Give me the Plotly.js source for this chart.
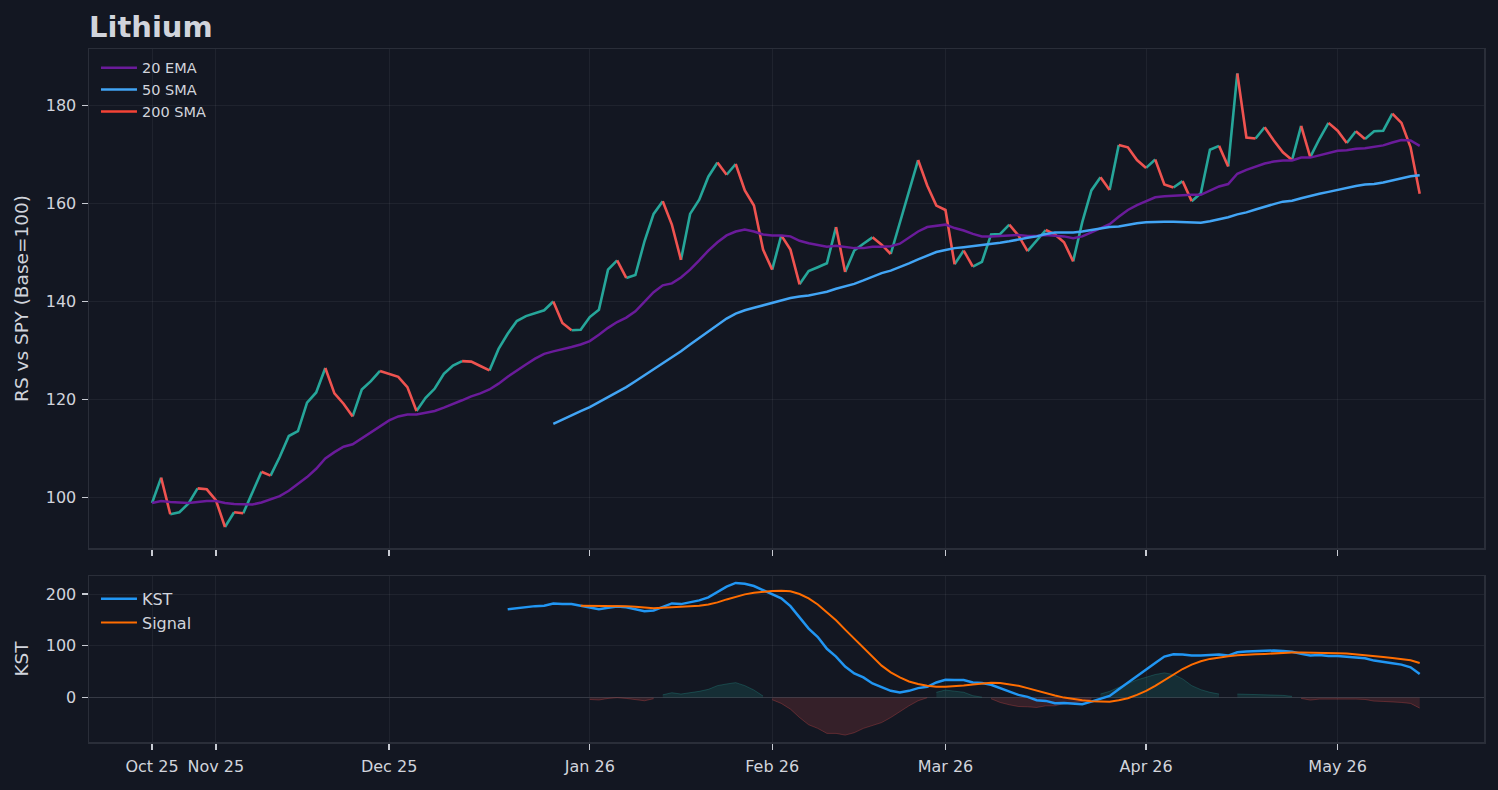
<!DOCTYPE html>
<html>
<head>
<meta charset="utf-8">
<script src="https://cdn.plot.ly/plotly-3.0.1.min.js"></script>
<style>
  html, body { margin: 0; padding: 0; background: #131722; }
  #chart { width: 1498px; height: 790px; }
</style>
</head>
<body>
<div id="chart"></div>
<script>
// ---------- DATA ----------
const tickIndex = [0, 7, 26, 48, 68, 87, 109, 130];
const tickLabels = ["Oct 25", "Nov 25", "Dec 25", "Jan 26", "Feb 26", "Mar 26", "Apr 26", "May 26"];

// RS vs SPY (Base=100), one value per trading day
const rsPrice = [
  98.8, 104.0, 96.5, 96.9, 98.7, 101.8, 101.6, 99.4, 93.9, 96.9,
  96.7, 101.1, 105.2, 104.4, 108.2, 112.5, 113.5, 119.3, 121.4, 126.4,
  121.2, 119.1, 116.5, 122.0, 123.7, 125.8, 125.2, 124.6, 122.5, 117.6,
  120.3, 122.2, 125.2, 126.9, 127.8, 127.7, 126.8, 125.9, 130.3, 133.4,
  136.0, 137.0, 137.6, 138.2, 140.0, 135.6, 134.1, 134.2, 136.8, 138.3,
  146.5, 148.4, 144.8, 145.4, 152.3, 157.9, 160.5, 155.7, 148.5, 157.9,
  160.8, 165.5, 168.4, 165.9, 168.1, 162.7, 159.6, 150.6, 146.5, 153.5,
  150.6, 143.5, 146.2, 147.0, 147.8, 155.2, 146.0, 150.4, 151.8, 153.1,
  151.6, 149.7, 156.2, 162.3, 168.9, 163.7, 159.6, 158.7, 147.6, 150.4,
  147.1, 148.1, 153.7, 153.8, 155.7, 153.5, 150.3, 152.4, 154.6, 153.7,
  152.1, 148.2, 156.2, 162.7, 165.4, 162.8, 172.0, 171.5, 168.9, 167.3,
  169.0, 163.9, 163.3, 164.6, 160.5, 162.1, 171.0, 171.8, 167.6, 186.6,
  173.5, 173.3, 175.6, 172.9, 170.5, 168.9, 175.9, 169.5, 173.2, 176.5,
  174.9, 172.4, 174.8, 173.2, 174.8, 174.9, 178.4, 176.5, 171.5, 162.0
];

const ema20 = [
  98.8, 99.2, 99.0, 98.9, 98.8, 99.0, 99.2, 99.2, 98.8, 98.6,
  98.5, 98.5, 98.9, 99.5, 100.2, 101.3, 102.7, 104.1, 105.8, 107.9,
  109.2, 110.3, 110.8, 112.0, 113.2, 114.5, 115.7, 116.5, 116.9, 116.9,
  117.2, 117.6, 118.3, 119.0, 119.8, 120.6, 121.2, 122.0, 123.2, 124.6,
  125.9, 127.1, 128.3, 129.3, 129.8, 130.2, 130.7, 131.2, 131.9, 133.2,
  134.6, 135.8, 136.7, 138.0, 139.9, 141.9, 143.3, 143.7, 144.9, 146.5,
  148.4, 150.4, 152.1, 153.5, 154.3, 154.7, 154.3, 153.7, 153.5, 153.5,
  153.3, 152.4, 151.9, 151.6, 151.2, 151.4, 151.1, 150.9, 150.9, 151.2,
  151.2, 151.3, 151.8, 153.0, 154.3, 155.2, 155.5, 155.7, 155.0, 154.5,
  153.8, 153.3, 153.3, 153.4, 153.6, 153.6, 153.4, 153.4, 153.6, 153.5,
  153.3, 152.9, 153.3, 154.1, 155.0, 155.8, 157.3, 158.7, 159.7, 160.5,
  161.3, 161.5, 161.6, 161.8, 161.8, 161.8, 162.7, 163.5, 164.0, 166.1,
  166.9, 167.6, 168.2, 168.6, 168.8, 168.8, 169.4, 169.4, 169.9, 170.4,
  170.8, 170.9, 171.2, 171.3, 171.6, 171.9, 172.5, 173.0, 172.9, 171.8
];

const sma50 = [
  null, null, null, null, null, null, null, null, null, null,
  null, null, null, null, null, null, null, null, null, null,
  null, null, null, null, null, null, null, null, null, null,
  null, null, null, null, null, null, null, null, null, null,
  null, null, null, null, 115.0, 115.9, 116.7, 117.6, 118.4, 119.4,
  120.5, 121.5, 122.5, 123.7, 124.9, 126.1, 127.3, 128.5, 129.8, 131.2,
  132.5, 133.9, 135.2, 136.5, 137.5, 138.2, 138.7, 139.2, 139.7, 140.2,
  140.7, 141.0, 141.2, 141.6, 142.0, 142.6, 143.1, 143.6, 144.3, 145.1,
  145.8, 146.3, 147.0, 147.8, 148.6, 149.4, 150.1, 150.5, 150.9, 151.1,
  151.3, 151.5, 151.8, 152.0, 152.3, 152.7, 153.0, 153.3, 153.8, 154.1,
  154.1, 154.1, 154.3, 154.6, 155.0, 155.2, 155.3, 155.7, 156.0, 156.2,
  156.3, 156.3, 156.3, 156.2, 156.1, 156.1, 156.4, 156.8, 157.2, 157.8,
  158.2, 158.8, 159.4, 159.9, 160.4, 160.6, 161.1, 161.6, 162.0, 162.4,
  162.8, 163.3, 163.6, 163.9, 164.0, 164.3, 164.7, 165.1, 165.6, 165.8
];

// 200 SMA: not enough history, nothing drawn (legend entry only)
const sma200 = rsPrice.map(() => null);

const kst = [
  null, null, null, null, null, null, null, null, null, null,
  null, null, null, null, null, null, null, null, null, null,
  null, null, null, null, null, null, null, null, null, null,
  null, null, null, null, null, null, null, null, null, 170.9,
  172.9, 174.8, 176.8, 177.4, 182.0, 181.0, 181.0, 177.4, 173.5, 170.9,
  173.5, 176.2, 174.8, 170.2, 167.0, 168.3, 175.4, 182.0, 180.7, 184.0,
  187.9, 193.7, 204.7, 214.5, 221.7, 220.3, 215.8, 208.0, 200.2, 191.8,
  176.8, 154.0, 133.2, 116.8, 94.1, 79.1, 59.6, 46.5, 38.7, 27.0,
  19.2, 12.7, 9.4, 12.7, 18.0, 20.5, 29.0, 34.2, 33.6, 33.6,
  29.0, 28.0, 24.4, 18.0, 10.7, 4.9, 1.0, -5.5, -6.8, -11.3,
  -10.7, -12.0, -13.3, -8.2, -2.3, 2.9, 16.0, 29.0, 42.0, 53.7,
  66.8, 79.1, 83.6, 83.0, 81.0, 81.0, 82.3, 83.0, 81.0, 87.5,
  88.9, 89.5, 90.8, 90.8, 90.0, 88.3, 84.4, 81.0, 82.3, 80.4,
  80.4, 79.1, 77.7, 75.8, 71.3, 69.3, 66.0, 63.5, 58.2, 45.3
];

const kstSignal = [
  null, null, null, null, null, null, null, null, null, null,
  null, null, null, null, null, null, null, null, null, null,
  null, null, null, null, null, null, null, null, null, null,
  null, null, null, null, null, null, null, null, null, null,
  null, null, null, null, null, null, null, 177.4, 177.4, 177.4,
  177.4, 177.4, 176.8, 175.5, 174.2, 172.9, 173.5, 174.2, 174.8, 176.2,
  177.4, 180.0, 184.0, 189.8, 195.0, 199.6, 202.8, 204.7, 206.0, 206.5,
  205.4, 200.2, 191.8, 180.0, 165.6, 149.4, 131.2, 113.6, 95.3, 77.7,
  61.5, 48.4, 38.7, 30.9, 25.8, 22.5, 20.5, 20.5, 21.1, 23.0,
  25.0, 27.0, 28.3, 28.0, 25.8, 22.5, 18.0, 12.7, 8.2, 3.5,
  -0.4, -3.5, -5.5, -7.4, -8.2, -8.2, -5.5, -1.6, 4.9, 12.7,
  22.5, 33.6, 45.3, 55.0, 63.5, 70.0, 74.6, 77.7, 79.7, 81.6,
  83.0, 83.6, 84.3, 85.5, 86.2, 86.8, 86.8, 86.8, 86.8, 86.2,
  85.5, 84.9, 83.6, 82.3, 80.4, 78.4, 76.4, 74.6, 71.9, 66.7
];

// KST histogram (shaded area)
const kstHist = [
  null, null, null, null, null, null, null, null, null, null,
  null, null, null, null, null, null, null, null, null, null,
  null, null, null, null, null, null, null, null, null, null,
  null, null, null, null, null, null, null, null, null, null,
  null, null, null, null, null, null, null, 0, -4, -5,
  -2, -0.5, -2, -4.5, -6.5, -2.5, 5, 9, 6.5, 9,
  11.7, 15.6, 22.8, 26, 28.6, 22.8, 14.3, 2.6, -4.5, -11.7,
  -22.8, -39, -53, -60, -69.7, -69.7, -73, -68.4, -60, -55,
  -48.8, -39, -27.3, -16.3, -6.5, -0.7, 9.8, 14.3, 12, 10,
  3.3, 0.5, -2.6, -9.8, -14.3, -17.6, -18.2, -19.5, -16.3, -16.3,
  -11.7, -9.8, -7.8, -3, 6.5, 11.7, 19.5, 27.3, 33.9, 39,
  44.3, 47.5, 44.3, 35.8, 22.8, 15, 9.8, 6.5, -0.3, 6.5,
  5.9, 5.2, 5.2, 5.2, 3.9, 2, -2, -5.2, -3.3, -3.3,
  -2, -2.6, -3.3, -4, -7.2, -7.8, -8.5, -9.8, -11.7, -20.8
];

// ---------- STYLE ----------
const BG = '#131722';
const TXT = '#d1d4dc';
const GRID = 'rgba(255,255,255,0.055)';
const SPINE = '#2a2e39';
const UP = '#26a69a';
const DOWN = '#ef5350';
const FONT = 'DejaVu Sans';

const xs = rsPrice.map((_, i) => i);

// split the RS line into rising / falling runs
function splitRuns(vals) {
  const up = { x: [], y: [] }, dn = { x: [], y: [] };
  let prev = null;
  for (let i = 0; i < vals.length - 1; i++) {
    const dir = vals[i + 1] >= vals[i] ? 'up' : 'dn';
    const t = dir === 'up' ? up : dn;
    if (dir !== prev) {
      if (t.x.length) { t.x.push(null); t.y.push(null); }
      t.x.push(xs[i]); t.y.push(vals[i]);
    }
    t.x.push(xs[i + 1]); t.y.push(vals[i + 1]);
    prev = dir;
  }
  return { up, dn };
}
const runs = splitRuns(rsPrice);

// histogram runs by sign (filled to zero)
function histRuns(vals) {
  const out = [];
  let cur = null;
  for (let i = 0; i < vals.length; i++) {
    const v = vals[i];
    const s = v == null ? 0 : (v > 0 ? 1 : (v < 0 ? -1 : 0));
    if (s === 0) { cur = null; continue; }
    if (!cur || cur.sign !== s) { cur = { sign: s, x: [], y: [] }; out.push(cur); }
    cur.x.push(xs[i]); cur.y.push(v);
  }
  return out;
}

const traces = [];
traces.push({ x: runs.up.x, y: runs.up.y, type: 'scatter', mode: 'lines', xaxis: 'x', yaxis: 'y',
  line: { color: UP, width: 2.6 }, showlegend: false, hoverinfo: 'skip', connectgaps: false });
traces.push({ x: runs.dn.x, y: runs.dn.y, type: 'scatter', mode: 'lines', xaxis: 'x', yaxis: 'y',
  line: { color: DOWN, width: 2.6 }, showlegend: false, hoverinfo: 'skip', connectgaps: false });
traces.push({ x: xs, y: ema20, name: '20 EMA', type: 'scatter', mode: 'lines', xaxis: 'x', yaxis: 'y',
  line: { color: '#6a1b9a', width: 2.5 }, legend: 'legend' });
traces.push({ x: xs, y: sma50, name: '50 SMA', type: 'scatter', mode: 'lines', xaxis: 'x', yaxis: 'y',
  line: { color: '#42a5f5', width: 2.5 }, legend: 'legend' });
traces.push({ x: xs, y: sma200, name: '200 SMA', type: 'scatter', mode: 'lines', xaxis: 'x', yaxis: 'y',
  line: { color: '#f44336', width: 2.5 }, legend: 'legend' });

histRuns(kstHist).forEach(r => {
  const pos = r.sign > 0;
  traces.push({ x: r.x, y: r.y, type: 'scatter', mode: 'lines', xaxis: 'x2', yaxis: 'y2',
    fill: 'tozeroy',
    fillcolor: pos ? 'rgba(38,166,154,0.16)' : 'rgba(239,83,80,0.16)',
    line: { color: pos ? 'rgba(38,166,154,0.28)' : 'rgba(239,83,80,0.28)', width: 1 },
    showlegend: false, hoverinfo: 'skip' });
});

traces.push({ x: xs, y: kst, name: 'KST', type: 'scatter', mode: 'lines', xaxis: 'x2', yaxis: 'y2',
  line: { color: '#2196f3', width: 2.5 }, legend: 'legend2' });
traces.push({ x: xs, y: kstSignal, name: 'Signal', type: 'scatter', mode: 'lines', xaxis: 'x2', yaxis: 'y2',
  line: { color: '#ff6d00', width: 2 }, legend: 'legend2' });

const xRange = [-6.91, 146.05];
const axisCommon = {
  showline: true, mirror: true, linecolor: SPINE, linewidth: 1.5,
  showgrid: true, gridcolor: GRID, gridwidth: 1,
  ticks: 'outside', ticklen: 6, tickwidth: 1.3, tickcolor: '#c8cbd3',
  zeroline: false,
  tickfont: { family: FONT, size: 16, color: TXT }
};

const layout = {
  width: 1498, height: 790,
  paper_bgcolor: BG, plot_bgcolor: BG,
  margin: { l: 89, r: 14, t: 49, b: 48 },
  font: { family: FONT, color: TXT, size: 16 },
  title: {
    text: '<b>Lithium</b>',
    font: { family: FONT, size: 29, color: '#d1d4dc' },
    x: 89 / 1498, xanchor: 'left', xref: 'container',
    y: 1 - 27 / 790, yanchor: 'middle', yref: 'container'
  },
  xaxis: Object.assign({}, axisCommon, {
    domain: [0, 1], anchor: 'y', range: xRange,
    tickmode: 'array', tickvals: tickIndex, ticktext: tickLabels,
    showticklabels: false
  }),
  yaxis: Object.assign({}, axisCommon, {
    domain: [0.2799, 1], anchor: 'x', range: [89.6, 191.6],
    tickmode: 'array', tickvals: [100, 120, 140, 160, 180],
    ticklabelstandoff: 2,
    title: { text: 'RS vs SPY (Base=100)', font: { family: FONT, size: 18.5, color: TXT }, standoff: 12 }
  }),
  xaxis2: Object.assign({}, axisCommon, {
    domain: [0, 1], anchor: 'y2', range: xRange,
    tickmode: 'array', tickvals: tickIndex, ticktext: tickLabels,
    showticklabels: true, ticklabelstandoff: 3
  }),
  yaxis2: Object.assign({}, axisCommon, {
    domain: [0, 0.2395], anchor: 'x2', range: [-86.4, 235.1],
    tickmode: 'array', tickvals: [0, 100, 200],
    ticklabelstandoff: 2,
    zeroline: true, zerolinecolor: '#363a45', zerolinewidth: 1.6,
    title: { text: 'KST', font: { family: FONT, size: 18.5, color: TXT }, standoff: 12 }
  }),
  legend: {
    x: 0.005, y: 0.996, xanchor: 'left', yanchor: 'top',
    bgcolor: 'rgba(0,0,0,0)', borderwidth: 0, itemwidth: 36,
    font: { family: FONT, size: 14.5, color: TXT }
  },
  legend2: {
    x: 0.005, y: 0.231, xanchor: 'left', yanchor: 'top',
    bgcolor: 'rgba(0,0,0,0)', borderwidth: 0, itemwidth: 36,
    font: { family: FONT, size: 16, color: TXT }
  },
  showlegend: true,
  hovermode: false
};

Plotly.newPlot('chart', traces, layout, { staticPlot: true, displayModeBar: false });
</script>
</body>
</html>
